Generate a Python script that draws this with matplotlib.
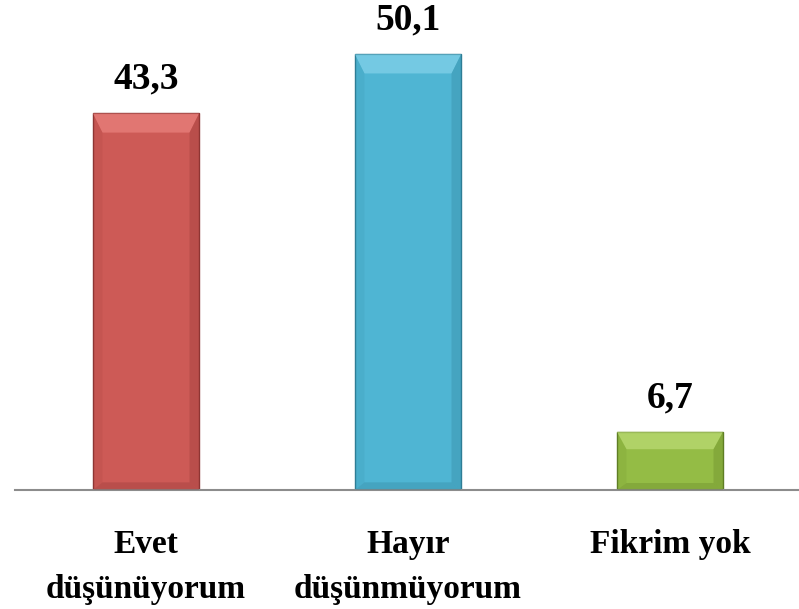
import numpy as np
import matplotlib.pyplot as plt
from matplotlib.patches import Polygon

categories = ["Evet\ndüşünüyorum", "Hayır\ndüşünmüyorum", "Fikrim yok"]
values = [43.3, 50.1, 6.7]
labels = ["43,3", "50,1", "6,7"]
colors = ["#CD5A56", "#4FB5D3", "#94BC45"]
edges = ["#8E3533", "#2E7D95", "#5F7E24"]
lights = ["#F08A86", "#8ED8EE", "#C3E27E"]

fig = plt.figure(figsize=(7.99, 6.09), dpi=100)
ax = fig.add_axes([15 / 799, 119 / 609, 786 / 799, 487 / 609])

x = np.arange(len(values))
w = 0.405
bars = ax.bar(x, values, width=w, color=colors, edgecolor=edges, linewidth=1.0, zorder=2)

# simple bevel on each bar
for b, lc, ec in zip(bars, lights, edges):
    x0, y0 = b.get_x(), b.get_y()
    x1, y1 = x0 + b.get_width(), y0 + b.get_height()
    dx = b.get_width() * 0.09
    dy = min(2.2, b.get_height() * 0.3)
    ax.add_patch(Polygon([[x0, y1], [x1, y1], [x1 - dx, y1 - dy], [x0 + dx, y1 - dy]],
                         closed=True, facecolor=lc, edgecolor="none", alpha=0.6, zorder=3))
    ax.add_patch(Polygon([[x1, y1], [x1, y0], [x1 - dx, y0 + dy * 0.4], [x1 - dx, y1 - dy]],
                         closed=True, facecolor=ec, edgecolor="none", alpha=0.3, zorder=3))
    ax.add_patch(Polygon([[x0, y1], [x0, y0], [x0 + dx, y0 + dy * 0.4], [x0 + dx, y1 - dy]],
                         closed=True, facecolor=ec, edgecolor="none", alpha=0.12, zorder=3))
    ax.add_patch(Polygon([[x0, y0], [x1, y0], [x1 - dx, y0 + dy * 0.4], [x0 + dx, y0 + dy * 0.4]],
                         closed=True, facecolor=ec, edgecolor="none", alpha=0.3, zorder=3))

for xi, v, lab in zip(x, values, labels):
    ax.text(xi, v + 1.9, lab, ha="center", va="bottom", fontsize=27,
            fontweight="bold", family="Liberation Serif", color="black")

ax.set_xlim(-0.5, 2.5)
ax.set_ylim(0, 56)
for s in ["top", "right", "left"]:
    ax.spines[s].set_visible(False)
ax.spines["bottom"].set_color("#8C8C8C")
ax.spines["bottom"].set_linewidth(1.5)
ax.set_yticks([])
ax.set_xticks(x)
ax.set_xticklabels(categories, fontsize=24, fontweight="bold",
                   family="Liberation Serif", linespacing=1.6)
ax.tick_params(axis="x", length=0, pad=28)

fig.savefig("out.png", dpi=100)
